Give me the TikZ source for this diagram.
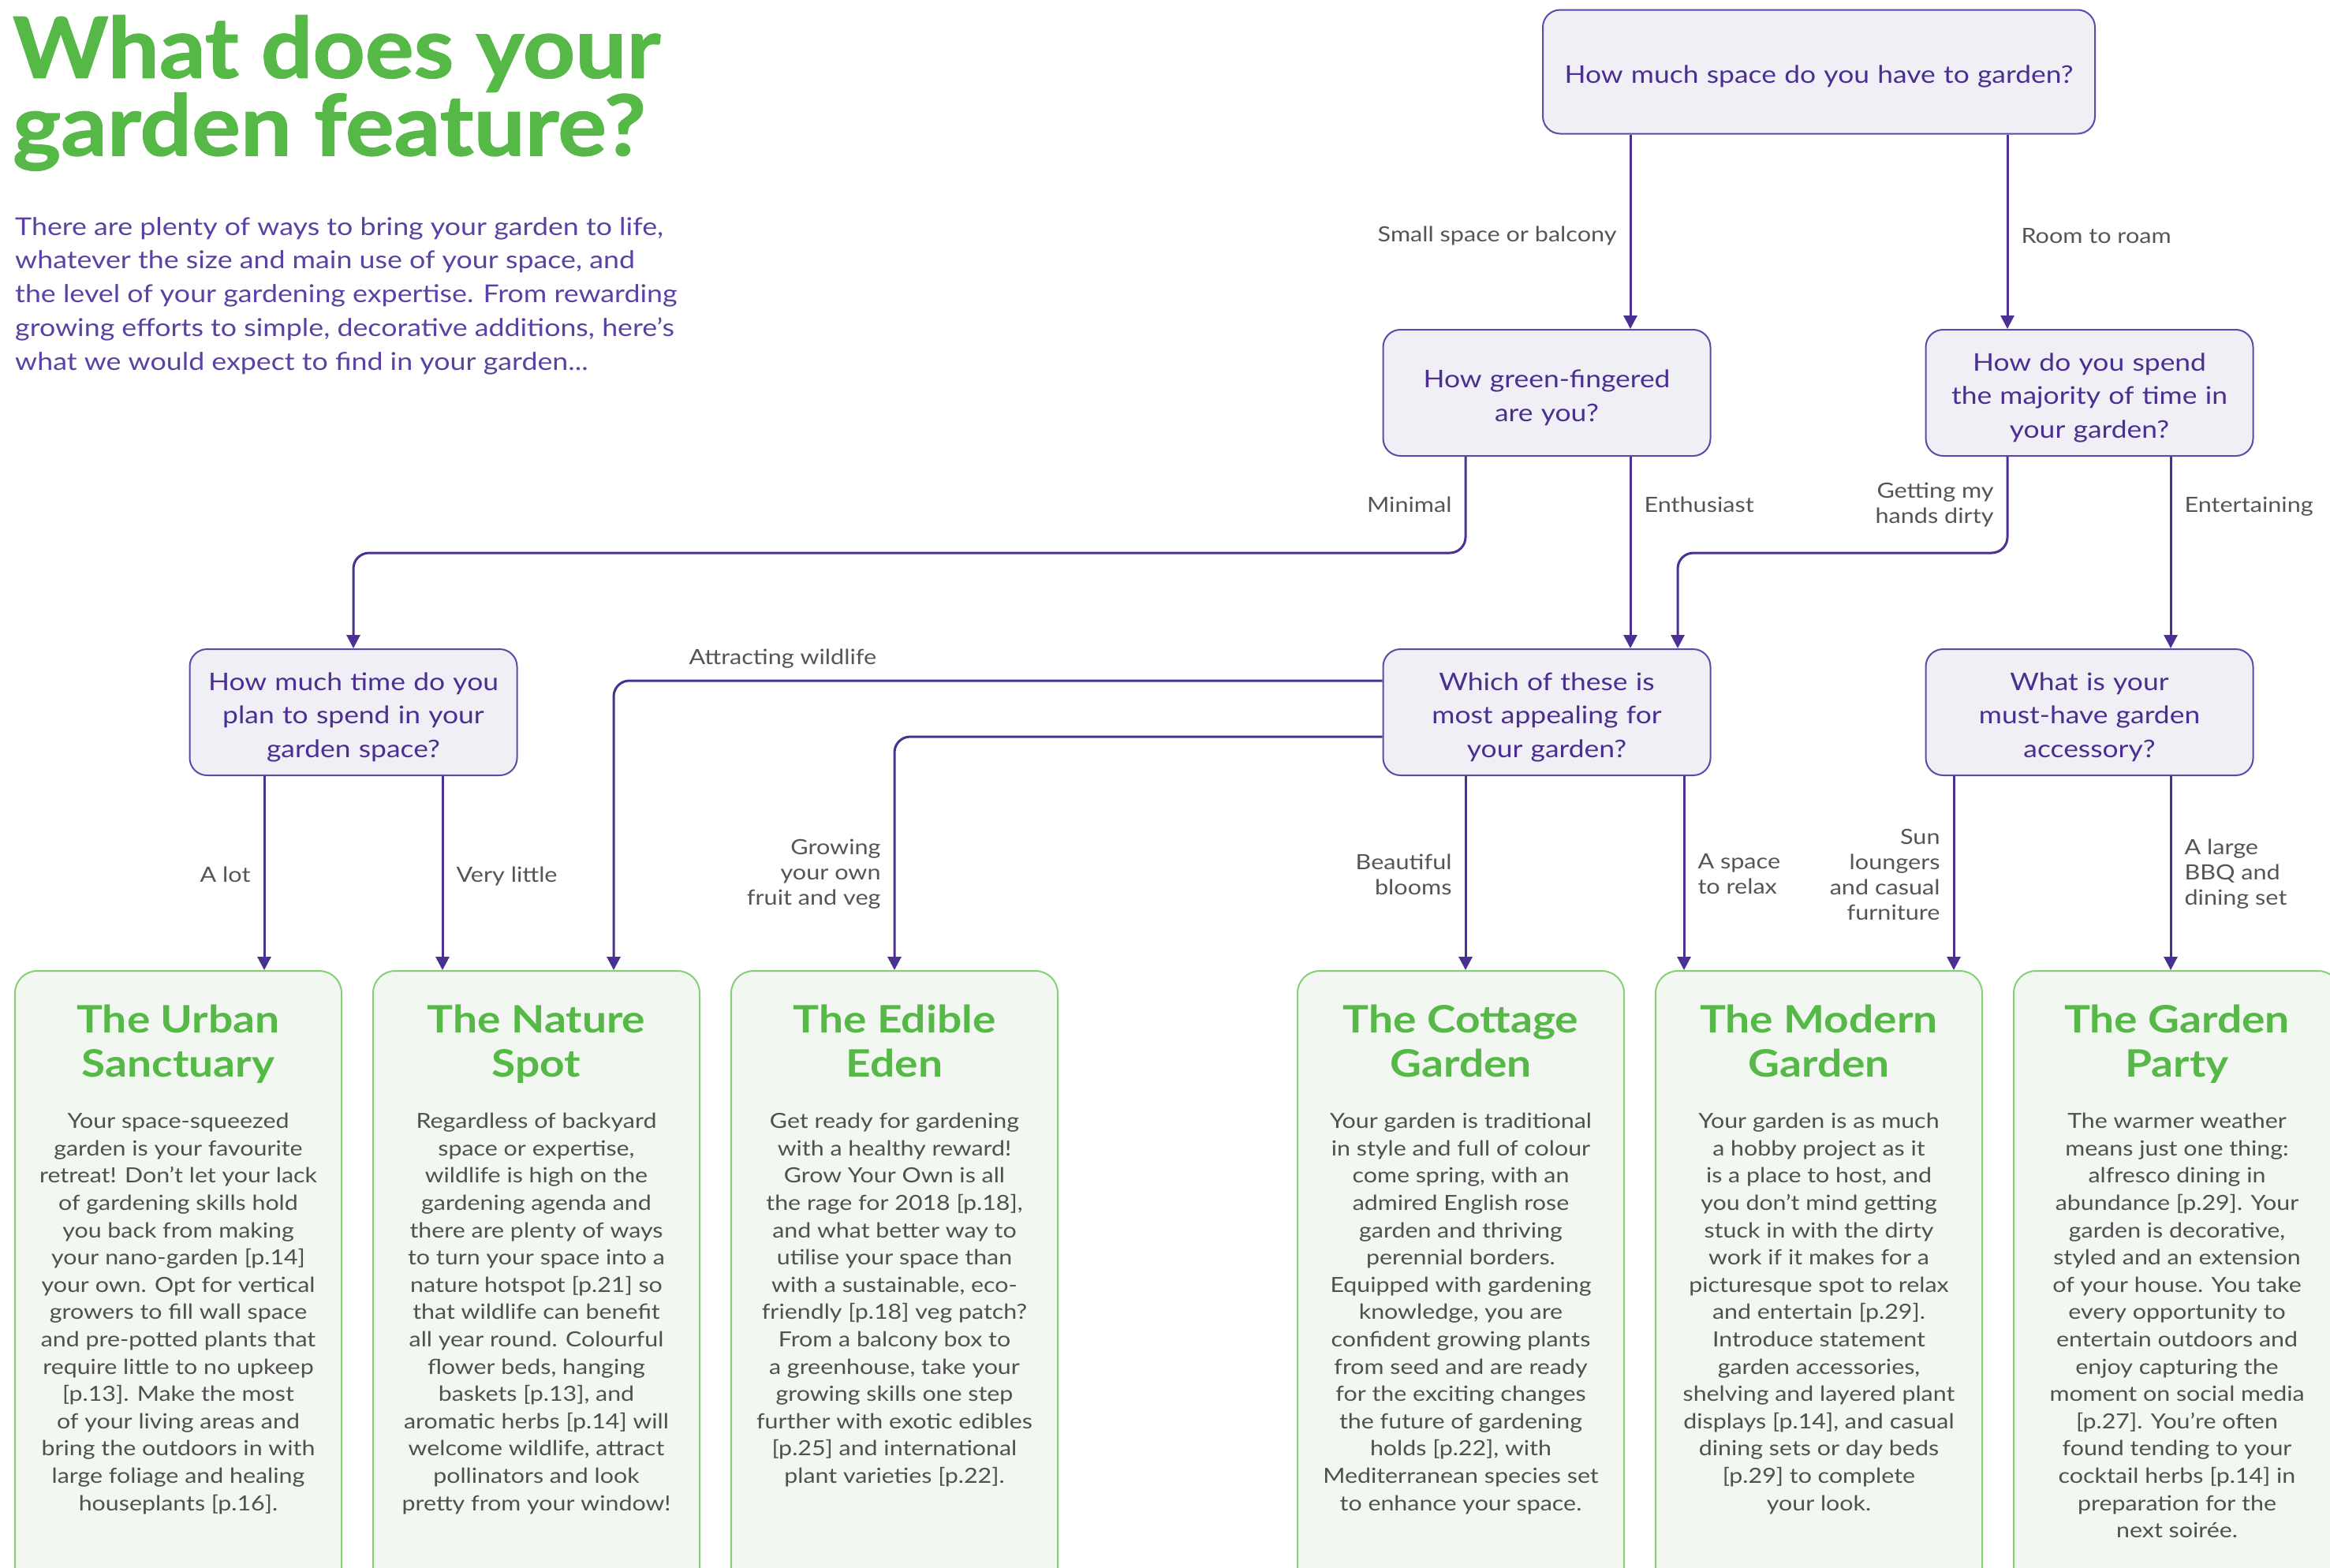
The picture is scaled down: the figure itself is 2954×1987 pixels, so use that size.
\documentclass[tikz,border=0pt]{standalone}
\usepackage{fontspec}
\setmainfont{Lato}[FakeStretch=1.15]
\newfontfamily\headfont{Lato}[FakeStretch=1.08,FakeBold=1.2]
\usetikzlibrary{arrows.meta}
\definecolor{qpurple}{HTML}{4B2E91}
\definecolor{qline}{HTML}{4A2F95}
\definecolor{qfill}{HTML}{F0EFF6}
\definecolor{qborder}{HTML}{5E48A8}
\definecolor{ggreen}{HTML}{55B847}
\definecolor{gborder}{HTML}{86CF78}
\definecolor{gfill}{HTML}{F3F7F2}
\definecolor{lblgray}{HTML}{555555}
\definecolor{bodygray}{HTML}{505050}
\definecolor{introcol}{HTML}{5B41A3}
\tikzset{
 qbox/.style={draw=qborder, line width=2pt, fill=qfill, rounded corners=22pt, minimum width=415pt, minimum height=160pt, text width=400pt, align=center, text=qpurple, font=\fontsize{30.8}{42.5}\selectfont, inner sep=0pt, execute at begin node={\rule{0pt}{35pt}}},
 rbox/.style={draw=gborder, line width=2pt, fill=gfill, rounded corners=28pt, minimum width=414pt, minimum height=820pt, anchor=north, inner sep=0pt},
 rtitle/.style={text=ggreen, font=\fontsize{47.9}{56}\selectfont\bfseries, align=center, anchor=north, inner sep=0pt},
 rbody/.style={text=bodygray, font=\fontsize{26.4}{34.6}\selectfont, align=center, anchor=north, inner sep=0pt},
 lbl/.style={text=lblgray, font=\fontsize{26.6}{32}\selectfont, inner sep=0pt},
 arr/.style={draw=qline, line width=3pt, -{Triangle[width=17pt,length=17pt]}, rounded corners=20pt},
}
\begin{document}
\begin{tikzpicture}[x=1pt,y=-1pt]
\useasboundingbox (0,0) rectangle (2954,1987);
\clip (0,0) rectangle (2954,1987);
% title and intro
\node[anchor=north west, inner sep=0pt, align=left, text=ggreen, font=\fontsize{107}{92}\headfont\bfseries] (title) at (16,19) {What does your\\garden feature?};
\node[anchor=north west, inner sep=0pt, align=left, text=introcol, font=\fontsize{31.1}{42.8}\selectfont] (intro) at (19,275) {There are plenty of ways to bring your garden to life,\\whatever the size and main use of your space, and\\the level of your gardening expertise. From rewarding\\growing efforts to simple, decorative additions, here’s\\what we would expect to find in your garden...};
% question boxes
\node[qbox, minimum width=700pt, minimum height=157pt, text width=680pt] (q1) at (2306,91) {How much space do you have to garden?};
\node[qbox] (q2) at (1961,498) {How green-fingered\\are you?};
\node[qbox] (q3) at (2649,498) {How do you spend\\the majority of time in\\your garden?};
\node[qbox] (q4) at (448,903) {How much time do you\\plan to spend in your\\garden space?};
\node[qbox] (q5) at (1961,903) {Which of these is\\most appealing for\\your garden?};
\node[qbox] (q6) at (2649,903) {What is your\\must-have garden\\accessory?};
% result boxes
\node[rbox] (r1) at (226,1230) {};
\node[rbox] (r2) at (680,1230) {};
\node[rbox] (r3) at (1134,1230) {};
\node[rbox] (r4) at (1852,1230) {};
\node[rbox] (r5) at (2306,1230) {};
\node[rbox] (r6) at (2760,1230) {};
\node[rtitle] (t1) at ([yshift=-44pt]r1.north) {The Urban\\Sanctuary};
\node[rtitle] (t2) at ([yshift=-44pt]r2.north) {The Nature\\Spot};
\node[rtitle] (t3) at ([yshift=-44pt]r3.north) {The Edible\\Eden};
\node[rtitle] (t4) at ([yshift=-44pt]r4.north) {The Cottage\\Garden};
\node[rtitle] (t5) at ([yshift=-44pt]r5.north) {The Modern\\Garden};
\node[rtitle] (t6) at ([yshift=-44pt]r6.north) {The Garden\\Party};
\node[rbody] (b1) at ([yshift=-181pt]r1.north) {Your space-squeezed\\garden is your favourite\\retreat! Don’t let your lack\\of gardening skills hold\\you back from making\\your nano-garden [p.14]\\your own. Opt for vertical\\growers to fill wall space\\and pre-potted plants that\\require little to no upkeep\\{[p.13]}. Make the most\\of your living areas and\\bring the outdoors in with\\large foliage and healing\\houseplants [p.16].};
\node[rbody] (b2) at ([yshift=-181pt]r2.north) {Regardless of backyard\\space or expertise,\\wildlife is high on the\\gardening agenda and\\there are plenty of ways\\to turn your space into a\\nature hotspot [p.21] so\\that wildlife can benefit\\all year round. Colourful\\flower beds, hanging\\baskets [p.13], and\\aromatic herbs [p.14] will\\welcome wildlife, attract\\pollinators and look\\pretty from your window!};
\node[rbody] (b3) at ([yshift=-181pt]r3.north) {Get ready for gardening\\with a healthy reward!\\Grow Your Own is all\\the rage for 2018 [p.18],\\and what better way to\\utilise your space than\\with a sustainable, eco-\\friendly [p.18] veg patch?\\From a balcony box to\\a greenhouse, take your\\growing skills one step\\further with exotic edibles\\{[p.25]} and international\\plant varieties [p.22].};
\node[rbody] (b4) at ([yshift=-181pt]r4.north) {Your garden is traditional\\in style and full of colour\\come spring, with an\\admired English rose\\garden and thriving\\perennial borders.\\Equipped with gardening\\knowledge, you are\\confident growing plants\\from seed and are ready\\for the exciting changes\\the future of gardening\\holds [p.22], with\\Mediterranean species set\\to enhance your space.};
\node[rbody] (b5) at ([yshift=-181pt]r5.north) {Your garden is as much\\a hobby project as it\\is a place to host, and\\you don’t mind getting\\stuck in with the dirty\\work if it makes for a\\picturesque spot to relax\\and entertain [p.29].\\Introduce statement\\garden accessories,\\shelving and layered plant\\displays [p.14], and casual\\dining sets or day beds\\{[p.29]} to complete\\your look.};
\node[rbody] (b6) at ([yshift=-181pt]r6.north) {The warmer weather\\means just one thing:\\alfresco dining in\\abundance [p.29]. Your\\garden is decorative,\\styled and an extension\\of your house. You take\\every opportunity to\\entertain outdoors and\\enjoy capturing the\\moment on social media\\{[p.27]}. You’re often\\found tending to your\\cocktail herbs [p.14] in\\preparation for the\\next soirée.};
% connector anchors
\coordinate (a1) at ([xshift=106pt]q2.north);
\coordinate (a2) at ([xshift=-104pt]q3.north);
\coordinate (m1) at ([xshift=-103pt]q2.south);
\coordinate (g1) at ([xshift=-104pt]q3.south);
\coordinate (g2) at ([xshift=166pt]q5.north);
\coordinate (e1) at ([xshift=103pt]q3.south);
\coordinate (l1) at ([xshift=-113pt]q4.south);
\coordinate (l2) at ([xshift=113pt]q4.south);
\coordinate (w1) at ([yshift=40pt]q5.west);
\coordinate (w2) at ([xshift=98pt]r2.north);
\coordinate (w3) at ([yshift=-31pt]q5.west);
\coordinate (c1) at ([xshift=-103pt]q5.south);
\coordinate (c2) at ([xshift=174pt]q5.south);
\coordinate (s1) at ([xshift=-172pt]q6.south);
\coordinate (s2) at ([xshift=103pt]q6.south);
% connectors
\draw[arr] (q1.south -| a1) -- node[lbl, left=16pt, pos=.52] {Small space or balcony} (a1);
\draw[arr] (q1.south -| a2) -- node[lbl, right=16pt, pos=.52] {Room to roam} (a2);
\draw[arr] (m1) -- node[lbl, left=16pt] {Minimal} ++(0,122) -| (q4.north);
\draw[arr] (q2.south -| a1) -- node[lbl, right=16pt, pos=.25] {Enthusiast} (q5.north -| a1);
\draw[arr] (g1) -- node[lbl, left=16pt, align=right] {Getting my\\hands dirty} ++(0,122) -| (g2);
\draw[arr] (e1) -- node[lbl, right=16pt, pos=.26] {Entertaining} (q6.north -| e1);
\draw[arr] (l1) -- node[lbl, left=16pt, pos=.506] {A lot} (r1.north -| l1);
\draw[arr] (l2) -- node[lbl, right=16pt, pos=.518] {Very little} (r2.north -| l2);
\draw[arr] (w1) -| node[lbl, above=14pt, pos=.39] {Attracting wildlife} (w2);
\draw[arr] (w3) -| node[lbl, left=16pt, pos=.794, align=right] {Growing\\your own\\fruit and veg} (r3.north);
\draw[arr] (c1) -- node[lbl, left=16pt, pos=.506, align=right] {Beautiful\\blooms} (r4.north -| c1);
\draw[arr] (c2) -- node[lbl, right=16pt, pos=.506, align=left] {A space\\to relax} (r5.north -| c2);
\draw[arr] (s1) -- node[lbl, left=16pt, pos=.506, align=right] {Sun\\loungers\\and casual\\furniture} (r5.north -| s1);
\draw[arr] (s2) -- node[lbl, right=16pt, pos=.506, align=left] {A large\\BBQ and\\dining set} (r6.north -| s2);
\end{tikzpicture}
\end{document}
